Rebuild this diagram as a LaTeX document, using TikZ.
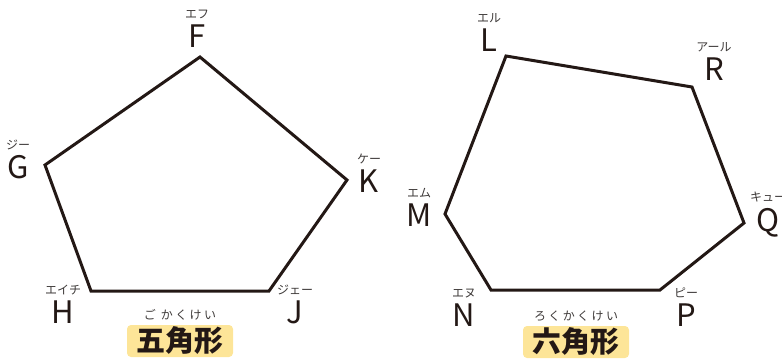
\documentclass[tikz,border=0pt]{standalone}
\usepackage{fontspec}
\setmainfont{Noto Sans CJK JP}
\usetikzlibrary{positioning}
\definecolor{sk-text}{HTML}{231815}
\definecolor{sk-ruby}{HTML}{3E3A39}
\definecolor{sk-tag}{HTML}{FDE598}

\begin{document}
\begin{tikzpicture}[
    x=1pt, y=1pt,
    node distance=5pt,
    font=\fontsize{31}{31}\selectfont,
    text=sk-text
  ]

  % Styles for vertex letters, kana readings and the name tags
  \tikzset{
    vlabel/.style={inner sep=0pt, anchor=base},
    ruby/.style={inner sep=0pt, text=sk-ruby, font=\fontsize{12}{12}\selectfont},
    tagruby/.style={ruby, font=\fontsize{12}{12}\selectfont\addfontfeatures{LetterSpace=20}},
    tag/.style={fill=sk-tag, rounded corners=4pt, inner sep=0pt, minimum width=106pt, minimum height=32pt, font=\fontsize{29}{29}\selectfont\bfseries},
    edge/.style={draw=sk-text, line width=3pt, line join=miter}
  }

  \useasboundingbox (0,0) rectangle (782,360);

  % Pentagon corners
  \coordinate (F) at (200,303);
  \coordinate (G) at (45,195);
  \coordinate (H) at (91,69);
  \coordinate (J) at (269,69);
  \coordinate (K) at (347,180);

  % Hexagon corners
  \coordinate (L) at (506,304);
  \coordinate (R) at (692,273);
  \coordinate (Q) at (744,137);
  \coordinate (P) at (660,70);
  \coordinate (N) at (491,70);
  \coordinate (M) at (445,146);

  \draw[edge] (F) -- (K) -- (J) -- (H) -- (G) -- cycle;
  \draw[edge] (L) -- (R) -- (Q) -- (P) -- (N) -- (M) -- cycle;

  % Vertex letters of the pentagon
  \node (labF) [vlabel] at (197,313) {F};
  \node (labG) [vlabel] at (18,182) {G};
  \node (labK) [vlabel] at (369,168) {K};
  \node (labH) [vlabel] at (63,37) {H};
  \node (labJ) [vlabel] at (295,37) {J};

  % Vertex letters of the hexagon
  \node (labL) [vlabel] at (489,309) {L};
  \node (labR) [vlabel] at (714,280) {R};
  \node (labQ) [vlabel] at (768,129) {Q};
  \node (labM) [vlabel] at (419,134) {M};
  \node (labN) [vlabel] at (464,34) {N};
  \node (labP) [vlabel] at (686,34) {P};

  % Kana readings above the letters
  \node (rubyF) [ruby, above=of labF] {エフ};
  \node (rubyG) [ruby, above=of labG] {ジー};
  \node (rubyK) [ruby, above=of labK] {ケー};
  \node (rubyH) [ruby, above=of labH] {エイチ};
  \node (rubyJ) [ruby, above=of labJ] {ジェー};
  \node (rubyL) [ruby, above=of labL] {エル};
  \node (rubyR) [ruby, above=of labR] {アール};
  \node (rubyQ) [ruby, above=of labQ] {キュー};
  \node (rubyM) [ruby, above=of labM] {エム};
  \node (rubyN) [ruby, above=of labN] {エヌ};
  \node (rubyP) [ruby, above=of labP] {ピー};

  % Name tags with their readings
  \node (penta) [tag] at (180,19) {五角形};
  \node (hexa)  [tag] at (576,18) {六角形};
  \node (rubyPenta) [tagruby, above=4pt of penta] {ご\ かくけい};
  \node (rubyHexa)  [tagruby, above=4pt of hexa] {ろくかくけい};

\end{tikzpicture}
\end{document}
